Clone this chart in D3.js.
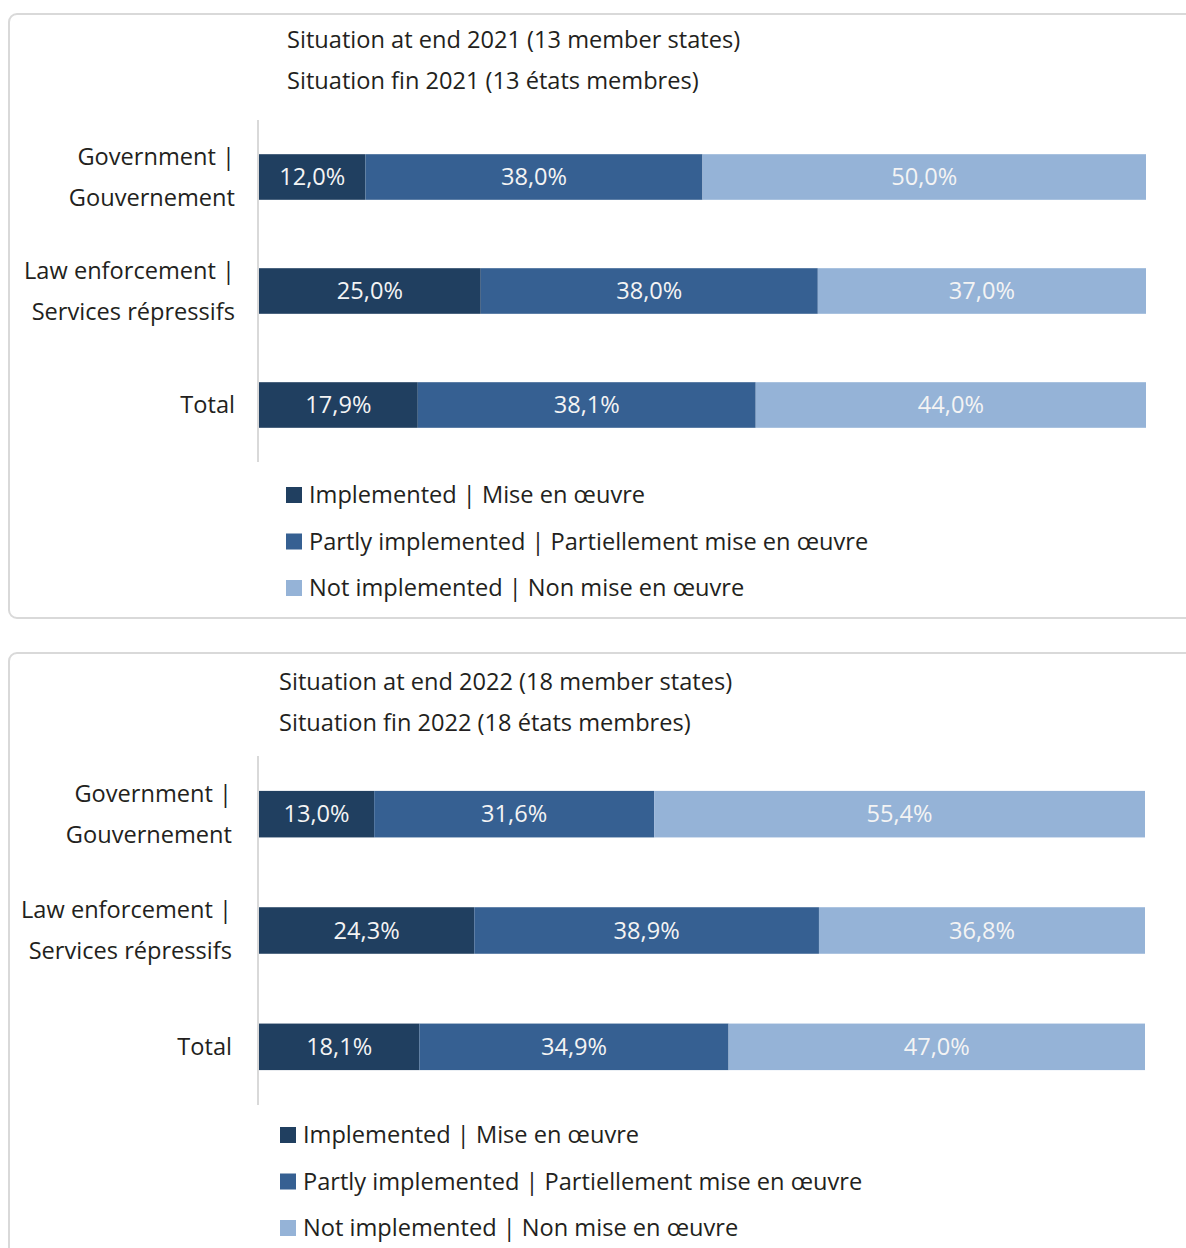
<!DOCTYPE html>
<html>
<head>
<meta charset="utf-8">
<script src="https://cdn.jsdelivr.net/npm/d3@7"></script>
<style>
  body { margin: 0; background: #fff; }
  text { font-family: "Open Sans", sans-serif; fill: #231f20; font-size: 23.6px; }
</style>
</head>
<body>
<svg id="chart" width="1186" height="1248"></svg>
<script>
// categories (two lines each)
var categories = ["Government", "Law enforcement", "Total"];
var categoryLines = [
    ["Government |", "Gouvernement"],
    ["Law enforcement |", "Services répressifs"],
    ["Total"]
];
var seriesNames = [
    "Implemented | Mise en œuvre",
    "Partly implemented | Partiellement mise en œuvre",
    "Not implemented | Non mise en œuvre"
];
var seriesKeys = ["implemented", "partly", "notImpl"];
var colors = ["#203f60", "#366092", "#95b3d7"];

// 2021
var titles2021 = ["Situation at end 2021 (13 member states)", "Situation fin 2021 (13 états membres)"];
var implemented2021 = [12.0, 25.0, 17.9];
var partly2021 = [38.0, 38.0, 38.1];
var notImpl2021 = [50.0, 37.0, 44.0];

// 2022
var titles2022 = ["Situation at end 2022 (18 member states)", "Situation fin 2022 (18 états membres)"];
var implemented2022 = [13.0, 24.3, 18.1];
var partly2022 = [31.6, 38.9, 34.9];
var notImpl2022 = [55.4, 36.8, 47.0];

var svg = d3.select('#chart');

function fmt(v) {
    return v.toFixed(1).replace('.', ',') + '%';
}

function drawPanel(cfg) {
    var g = svg.append('g');
    // panel frame (open to the right / bottom)
    g.append('rect')
        .attr('x', 9).attr('y', cfg.boxY)
        .attr('width', 1300).attr('height', cfg.boxH)
        .attr('rx', 8).attr('ry', 8)
        .attr('fill', 'none')
        .attr('stroke', '#d9d9d9')
        .attr('stroke-width', 2);

    // titles
    g.selectAll('text.title')
        .data(cfg.titles)
        .enter().append('text')
        .attr('class', 'title')
        .attr('x', cfg.titleX)
        .attr('y', function (d, i) { return cfg.titleY + i * 41; })
        .attr('dy', '0.35em')
        .text(function (d) { return d; });

    var rows = categories.map(function (c, i) {
        return {cat: c, implemented: cfg.implemented[i], partly: cfg.partly[i], notImpl: cfg.notImpl[i]};
    });

    var x = d3.scaleLinear().domain([0, 100]).range([259, cfg.xEnd]);
    var y = d3.scaleBand().domain(categories).range(cfg.yRange)
        .paddingInner(0.6).paddingOuter(0.3);

    var stacked = d3.stack().keys(seriesKeys)(rows);

    var layers = g.selectAll('g.layer')
        .data(stacked)
        .enter().append('g')
        .attr('class', 'layer')
        .attr('fill', function (d, i) { return colors[i]; });

    layers.selectAll('rect')
        .data(function (d) { return d; })
        .enter().append('rect')
        .attr('x', function (d) { return x(d[0]); })
        .attr('y', function (d) { return y(d.data.cat); })
        .attr('width', function (d) { return x(d[1]) - x(d[0]); })
        .attr('height', y.bandwidth());

    layers.selectAll('text')
        .data(function (d) { return d; })
        .enter().append('text')
        .attr('x', function (d) { return (x(d[0]) + x(d[1])) / 2; })
        .attr('y', function (d) { return y(d.data.cat) + y.bandwidth() / 2; })
        .attr('dy', '0.35em')
        .attr('text-anchor', 'middle')
        .style('fill', '#f4f4f4')
        .text(function (d) { return fmt(d[1] - d[0]); });

    // category axis line
    g.append('line')
        .attr('x1', 258).attr('x2', 258)
        .attr('y1', cfg.yRange[0]).attr('y2', cfg.yRange[1])
        .attr('stroke', '#d9d9d9').attr('stroke-width', 2);

    // category labels
    categories.forEach(function (c, i) {
        var lines = categoryLines[i];
        var cy = y(c) + y.bandwidth() / 2;
        lines.forEach(function (ln, j) {
            g.append('text')
                .attr('x', cfg.labelX)
                .attr('y', cy + (j - (lines.length - 1) / 2) * 41)
                .attr('dy', '0.35em')
                .attr('text-anchor', 'end')
                .text(ln);
        });
    });

    // legend
    var leg = g.selectAll('g.legend')
        .data(seriesNames)
        .enter().append('g')
        .attr('class', 'legend')
        .attr('transform', function (d, i) {
            return 'translate(' + cfg.legendX + ',' + (cfg.legendY + i * 46.5) + ')';
        });
    leg.append('rect')
        .attr('x', 0).attr('y', -8)
        .attr('width', 16).attr('height', 16)
        .attr('fill', function (d, i) { return colors[i]; });
    leg.append('text')
        .attr('x', 23)
        .attr('dy', '0.35em')
        .text(function (d) { return d; });
}

drawPanel({
    boxY: 14, boxH: 604,
    titles: titles2021, titleX: 287, titleY: 40,
    implemented: implemented2021, partly: partly2021, notImpl: notImpl2021,
    xEnd: 1146, yRange: [120, 462], labelX: 235,
    legendX: 286, legendY: 495
});

drawPanel({
    boxY: 653, boxH: 700,
    titles: titles2022, titleX: 279, titleY: 682,
    implemented: implemented2022, partly: partly2022, notImpl: notImpl2022,
    xEnd: 1145, yRange: [756, 1105], labelX: 232,
    legendX: 280, legendY: 1135
});
</script>
</body>
</html>
